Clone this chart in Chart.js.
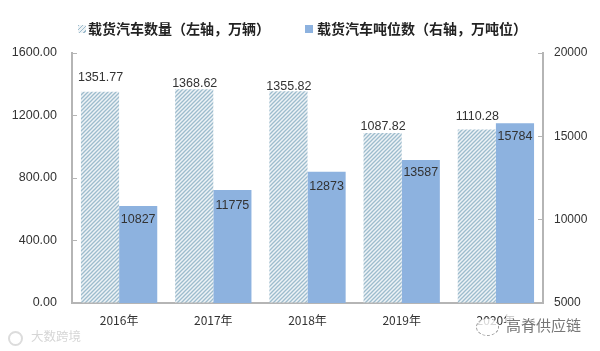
<!DOCTYPE html>
<html lang="zh">
<head>
    <meta charset="UTF-8">
    <title>载货汽车数量与吨位数</title>
    <style>
        html, body { margin: 0; padding: 0; background: #fff; }
        #wrap { position: relative; width: 600px; height: 351px; overflow: hidden; }
        .legend-text {
            position: absolute; top: 18px; line-height: 20px; white-space: nowrap;
            font: bold 14px/20px "Noto Sans CJK SC", sans-serif; color: #222;
        }
        .legend-box { position: absolute; top: 25px; width: 8px; height: 8px; }
        #box1 { left: 78px; background: repeating-linear-gradient(135deg, #9dbccd 0 1px, #eef3f6 1px 3px); }
        #box2 { left: 305px; background: #8db2df; }
        #text1 { left: 88px; }
        #text2 { left: 317px; }
        .mark { position: absolute; font-family: "Noto Sans CJK SC", sans-serif; white-space: nowrap; }
        #markLeft { left: 31px; top: 326px; font-size: 12.5px; line-height: 20px; color: #d6d6d6; }
        #ringLeft { position: absolute; left: 8px; top: 331px; width: 11px; height: 11px; border: 2px solid #dcdcdc; border-radius: 50%; }
        #markRight { left: 506px; top: 314px; font-size: 15px; line-height: 22px; color: #777; background: rgba(255,255,255,.75); }
        #ringRight { position: absolute; left: 476px; top: 318px; width: 21px; height: 16px; border: 1px dashed #999; border-radius: 50%; background: rgba(255,255,255,.8); }
    </style>
    <script src="https://cdn.jsdelivr.net/npm/chart.js"></script>
</head>
<body>
<div id="wrap">
    <canvas id="chart" width="600" height="351"></canvas>
    <div class="legend-box" id="box1"></div>
    <div class="legend-text" id="text1">载货汽车数量（左轴，万辆）</div>
    <div class="legend-box" id="box2"></div>
    <div class="legend-text" id="text2">载货汽车吨位数（右轴，万吨位）</div>
    <div id="ringLeft"></div>
    <div class="mark" id="markLeft">大数跨境</div>
    <div id="ringRight"></div>
    <div class="mark" id="markRight">高脊供应链</div>
</div>

<script>
    const years = ['2016年', '2017年', '2018年', '2019年', '2020年'];
    const vehicleCount = [1351.77, 1368.62, 1355.82, 1087.82, 1110.28];
    const tonnage = [10827, 11775, 12873, 13587, 15784];
    const leftTicks = [0, 400, 800, 1200, 1600];
    const rightTicks = [5000, 10000, 15000, 20000];

    // diagonal hatch for the left-axis bars
    function hatch() {
        const c = document.createElement('canvas');
        c.width = c.height = 4;
        const g = c.getContext('2d');
        g.fillStyle = '#eef3f6';
        g.fillRect(0, 0, 4, 4);
        g.strokeStyle = '#9dbccd';
        g.lineWidth = 1.3;
        g.beginPath();
        g.moveTo(-1, 5); g.lineTo(5, -1);
        g.moveTo(-1, 1); g.lineTo(1, -1);
        g.moveTo(3, 5); g.lineTo(5, 3);
        g.stroke();
        return g.createPattern(c, 'repeat');
    }

    // value labels: above the hatched bars, inside the blue ones
    // the original places them by hand, so the gap differs per bar
    const countGap = [-14, -6, -5, -6, -13];
    const tonnageGap = [14, 15, 15, 13, 13];
    const barLabels = {
        id: 'barLabels',
        afterDatasetsDraw(chart) {
            const ctx = chart.ctx;
            ctx.save();
            ctx.font = '12.5px "Liberation Sans"';
            ctx.fillStyle = '#333';
            ctx.textAlign = 'center';
            ctx.textBaseline = 'middle';
            chart.getDatasetMeta(0).data.forEach((bar, i) => {
                ctx.fillText(vehicleCount[i].toFixed(2), bar.x + 0.5, bar.y + countGap[i]);
            });
            chart.getDatasetMeta(1).data.forEach((bar, i) => {
                ctx.fillText(String(tonnage[i]), bar.x, bar.y + tonnageGap[i]);
            });
            ctx.restore();
        }
    };

    new Chart(document.getElementById('chart'), {
        type: 'bar',
        data: {
            labels: years,
            datasets: [
                { label: '载货汽车数量（左轴，万辆）', data: vehicleCount, yAxisID: 'y', backgroundColor: hatch() },
                { label: '载货汽车吨位数（右轴，万吨位）', data: tonnage, yAxisID: 'y1', backgroundColor: '#8db2df' }
            ]
        },
        options: {
            responsive: false,
            animation: false,
            layout: { padding: { top: 53 } },
            datasets: { bar: { categoryPercentage: 0.81, barPercentage: 1 } },
            plugins: {
                tooltip: { enabled: false },
                legend: { display: false }
            },
            scales: {
                x: {
                    grid: { display: false },
                    border: { color: '#b5b5b5', width: 2 },
                    ticks: { color: '#333', font: { family: '"Noto Sans CJK SC"', size: 12 }, padding: 2 },
                    afterFit(scale) { scale.height = 48; }
                },
                y: {
                    position: 'left',
                    min: 0,
                    max: 1600,
                    afterBuildTicks(scale) { scale.ticks = leftTicks.map(v => ({ value: v })); },
                    afterFit(scale) { scale.width = 72; },
                    border: { color: '#b5b5b5', width: 2 },
                    grid: { drawOnChartArea: false, tickLength: -5, tickColor: '#b5b5b5' },
                    ticks: {
                        color: '#333',
                        padding: 20,
                        font: { family: '"Liberation Sans"', size: 12.5 },
                        callback: v => Number(v).toFixed(2)
                    }
                },
                y1: {
                    position: 'right',
                    min: 5000,
                    max: 20000,
                    afterBuildTicks(scale) { scale.ticks = rightTicks.map(v => ({ value: v })); },
                    afterFit(scale) { scale.width = 57; },
                    border: { color: '#b5b5b5', width: 2 },
                    grid: { drawOnChartArea: false, tickLength: -5, tickColor: '#b5b5b5' },
                    ticks: {
                        color: '#333',
                        padding: 16,
                        font: { family: '"Liberation Sans"', size: 12 },
                        callback: v => String(v)
                    }
                }
            }
        },
        plugins: [barLabels]
    });
</script>
</body>
</html>
